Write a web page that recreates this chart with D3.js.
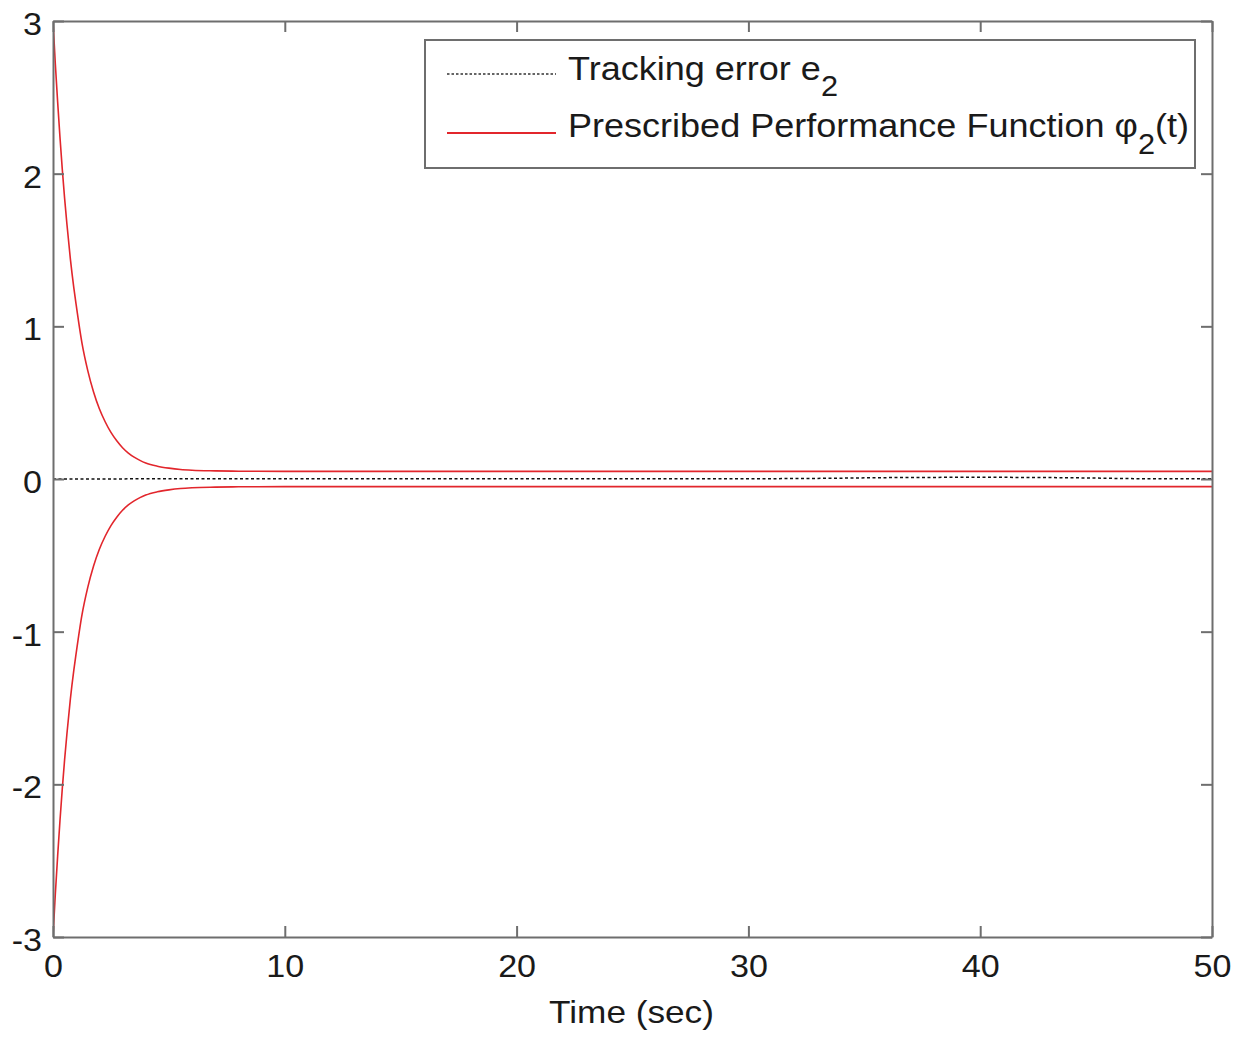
<!DOCTYPE html>
<html>
<head>
<meta charset="utf-8">
<script src="https://cdn.jsdelivr.net/npm/d3@7"></script>
<style>
  html, body { margin: 0; padding: 0; background: #fff; }
  svg { display: block; font-family: "Liberation Sans", Arial, Helvetica, sans-serif; }
</style>
</head>
<body>
<svg id="chart" width="1241" height="1038"></svg>
<script>
// Prescribed performance bound phi_2(t) (upper and lower) and tracking error e_2
const timeSec = [0, 0.1, 0.2, 0.3, 0.4, 0.5, 0.6, 0.75, 0.9, 1, 1.25, 1.5, 1.75, 2, 2.25, 2.5, 2.75, 3, 3.25, 3.5, 3.75, 4, 4.5, 5, 5.5, 6, 7, 8, 10, 15, 20, 25, 30, 35, 40, 45, 50];
const upperBound = [3.00, 2.72, 2.47, 2.24, 2.03, 1.84, 1.67, 1.44, 1.25, 1.14, 0.89, 0.71, 0.57, 0.46, 0.375, 0.305, 0.25, 0.205, 0.17, 0.143, 0.122, 0.105, 0.084, 0.071, 0.062, 0.057, 0.053, 0.051, 0.05, 0.05, 0.05, 0.05, 0.05, 0.05, 0.05, 0.05, 0.05];
const lowerBound = [-3.00, -2.72, -2.47, -2.24, -2.03, -1.84, -1.67, -1.44, -1.25, -1.14, -0.89, -0.71, -0.57, -0.46, -0.375, -0.305, -0.25, -0.205, -0.17, -0.143, -0.122, -0.105, -0.084, -0.071, -0.062, -0.057, -0.053, -0.051, -0.05, -0.05, -0.05, -0.05, -0.05, -0.05, -0.05, -0.05, -0.05];

const errorTime = [0, 5, 10, 15, 20, 25, 30, 33, 36, 40, 44, 47, 50];
const trackingError = [0, 0.001, 0.001, 0.002, 0.002, 0.002, 0.002, 0.004, 0.009, 0.011, 0.008, 0.002, 0.001];

const xTicks = [0, 10, 20, 30, 40, 50];
const yTicks = [-3, -2, -1, 0, 1, 2, 3];

const legendLabels = ["Tracking error e", "Prescribed Performance Function \u03C6"];

const svg = d3.select("#chart");
const plotLeft = 53, plotRight = 1212, plotTop = 21, plotBottom = 937;

const x = d3.scaleLinear().domain([0, 50]).range([plotLeft, plotRight]);
const y = d3.scaleLinear().domain([-3, 3]).range([plotBottom, plotTop]);

const axisGrey = "#6e6e6e";
const textColor = "#1a1a1a";
const red = "#e2262c";
const plainNumber = d => String(d);

// clip to the plotting box
svg.append("defs").append("clipPath").attr("id", "plotClip")
  .append("rect").attr("x", plotLeft).attr("y", plotTop - 1)
  .attr("width", plotRight - plotLeft).attr("height", plotBottom - plotTop + 2);

const plot = svg.append("g").attr("clip-path", "url(#plotClip)");

const line = d3.line().x(d => x(d[0])).y(d => y(d[1])).curve(d3.curveMonotoneX);

plot.append("path")
  .datum(timeSec.map((t, i) => [t, upperBound[i]]))
  .attr("d", line).attr("fill", "none").attr("stroke", red).attr("stroke-width", 1.6);

plot.append("path")
  .datum(timeSec.map((t, i) => [t, lowerBound[i]]))
  .attr("d", line).attr("fill", "none").attr("stroke", red).attr("stroke-width", 1.6);

plot.append("path")
  .datum(errorTime.map((t, i) => [t, trackingError[i]]))
  .attr("d", line).attr("fill", "none").attr("stroke", "#111")
  .attr("stroke-width", 1.5).attr("stroke-dasharray", "3,2.5");

// axes: ticks point inward on all four sides
function styleAxis(g) {
  g.select(".domain").attr("stroke", axisGrey).attr("stroke-width", 2);
  g.selectAll(".tick line").attr("stroke", axisGrey).attr("stroke-width", 2);
  g.selectAll(".tick text").attr("fill", textColor);
}

const xAxis = svg.append("g").attr("transform", `translate(0,${plotBottom})`)
  .call(d3.axisBottom(x).tickValues(xTicks).tickFormat(plainNumber)
    .tickSizeInner(-11).tickSizeOuter(0).tickPadding(18))
  .call(styleAxis);
xAxis.selectAll(".tick text")
  .attr("font-size", 31).attr("font-family", "Liberation Sans, Arial, sans-serif")
  .attr("transform", "scale(1.1,1)");

const yAxis = svg.append("g").attr("transform", `translate(${plotLeft},0)`)
  .call(d3.axisLeft(y).tickValues(yTicks).tickFormat(plainNumber)
    .tickSizeInner(-11).tickSizeOuter(0).tickPadding(10))
  .call(styleAxis);
yAxis.selectAll(".tick text")
  .attr("font-size", 31).attr("font-family", "Liberation Sans, Arial, sans-serif")
  .attr("dy", "0.44em")
  .attr("transform", "scale(1.1,1)");

svg.append("g").attr("transform", `translate(0,${plotTop})`)
  .call(d3.axisTop(x).tickValues(xTicks).tickSizeInner(-11).tickSizeOuter(0).tickFormat(""))
  .call(styleAxis);

svg.append("g").attr("transform", `translate(${plotRight},0)`)
  .call(d3.axisRight(y).tickValues(yTicks).tickSizeInner(-11).tickSizeOuter(0).tickFormat(""))
  .call(styleAxis);

// axis title
svg.append("g").attr("transform", `translate(${(plotLeft + plotRight) / 2 - 1},1023) scale(1.1,1)`)
  .append("text").attr("text-anchor", "middle")
  .attr("font-size", 32).attr("fill", textColor).text("Time (sec)");

// legend
const legend = svg.append("g");
legend.append("rect")
  .attr("x", 425).attr("y", 40).attr("width", 770).attr("height", 128)
  .attr("fill", "#fff").attr("stroke", axisGrey).attr("stroke-width", 2);

legend.append("line").attr("x1", 447).attr("x2", 556).attr("y1", 74).attr("y2", 74)
  .attr("stroke", "#333").attr("stroke-width", 1.4).attr("stroke-dasharray", "2.5,2");
legend.append("line").attr("x1", 447).attr("x2", 556).attr("y1", 133).attr("y2", 133)
  .attr("stroke", red).attr("stroke-width", 1.8);

const t1 = legend.append("g").attr("transform", "translate(568,80) scale(1.06,1)")
  .append("text").attr("font-size", 34).attr("fill", textColor);
t1.append("tspan").text(legendLabels[0]);
t1.append("tspan").attr("font-size", 29).attr("dy", 16).text("2");

const t2 = legend.append("g").attr("transform", "translate(568,137) scale(1.06,1)")
  .append("text").attr("font-size", 34).attr("fill", textColor);
t2.append("tspan").text(legendLabels[1]);
t2.append("tspan").attr("font-size", 29).attr("dy", 17).text("2");
t2.append("tspan").attr("dy", -17).text("(t)");
</script>
</body>
</html>
